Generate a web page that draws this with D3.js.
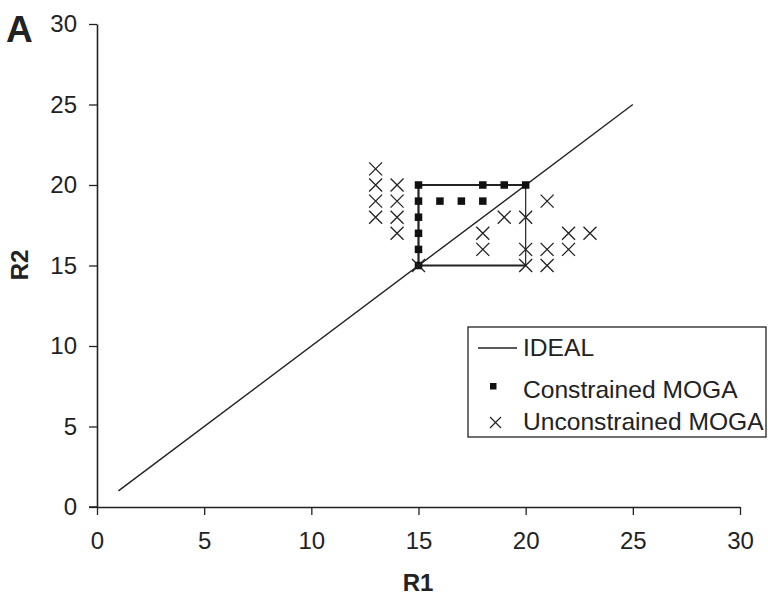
<!DOCTYPE html>
<html><head><meta charset="utf-8">
<script src="https://cdn.jsdelivr.net/npm/d3@7"></script>
<style>body{margin:0;background:#fff}svg{display:block}text{font-family:"Liberation Sans",Arial,sans-serif;fill:#222}</style>
</head><body>
<svg id="c" width="768" height="595"></svg>
<script>
const xTicks = [0,5,10,15,20,25,30];
const yTicks = [0,5,10,15,20,25,30];
const idealR1 = [1,25];
const idealR2 = [1,25];
const conR1 = [15,18,19,20,15,16,17,18,15,15,15,15];
const conR2 = [20,20,20,20,19,19,19,19,18,17,16,15];
const uncR1 = [13,13,13,13,14,14,14,14,15,18,18,19,20,20,20,21,21,21,22,22,23];
const uncR2 = [21,20,19,18,20,19,18,17,15,17,16,18,18,16,15,19,16,15,17,16,17];
const boxR1 = [15,20,20,15,15];
const boxR2 = [20,20,15,15,20];
const legendLabels = ["IDEAL","Constrained MOGA","Unconstrained MOGA"];

const svg = d3.select("#c");
const x = d3.scaleLinear().domain([0,30]).range([97,740]);
const y = d3.scaleLinear().domain([0,30]).range([507,24]);
const col = "#222";

// axes
const xa = svg.append("g").attr("transform","translate(0,507)")
  .call(d3.axisBottom(x).tickValues(xTicks).tickSize(8).tickPadding(17).tickSizeOuter(0));
const ya = svg.append("g").attr("transform","translate(97,0)")
  .call(d3.axisLeft(y).tickValues(yTicks).tickSize(8).tickPadding(12).tickSizeOuter(0));
[xa,ya].forEach(a=>{
  a.select(".domain").attr("stroke",col).attr("stroke-width",1.6);
  a.selectAll(".tick line").attr("stroke",col).attr("stroke-width",1.3);
  a.selectAll(".tick text").attr("font-size",24).attr("fill",col)
   .style("font-family",'"Liberation Sans",Arial,sans-serif');
});
svg.append("line").attr("x1",89).attr("x2",97).attr("y1",507).attr("y2",507).attr("stroke",col).attr("stroke-width",1.6);

// ideal line
const line = d3.line().x(d=>x(d[0])).y(d=>y(d[1]));
svg.append("path").attr("d",line(idealR1.map((v,i)=>[v,idealR2[i]])))
  .attr("fill","none").attr("stroke",col).attr("stroke-width",1.4);

// constraint box: top, right (thin), bottom, left
const bp = boxR1.map((v,i)=>[v,boxR2[i]]);
const widths = [2,1.2,2,2.2];
for(let i=0;i<4;i++){
  svg.append("line").attr("x1",x(bp[i][0])).attr("y1",y(bp[i][1]))
    .attr("x2",x(bp[i+1][0])).attr("y2",y(bp[i+1][1]))
    .attr("stroke",col).attr("stroke-width",widths[i]);
}

// constrained squares
const s = 7.5;
svg.append("g").selectAll("rect").data(conR1.map((v,i)=>[v,conR2[i]])).join("rect")
  .attr("x",d=>x(d[0])-s/2).attr("y",d=>y(d[1])-s/2).attr("width",s).attr("height",s).attr("fill","#111");

// unconstrained X
const h = 6.5;
const xp = d=>`M${x(d[0])-h},${y(d[1])-h}L${x(d[0])+h},${y(d[1])+h}M${x(d[0])-h},${y(d[1])+h}L${x(d[0])+h},${y(d[1])-h}`;
svg.append("g").selectAll("path").data(uncR1.map((v,i)=>[v,uncR2[i]])).join("path")
  .attr("d",xp).attr("stroke",col).attr("stroke-width",1.3).attr("fill","none");

// legend
const lg = svg.append("g");
lg.append("rect").attr("x",468).attr("y",327).attr("width",298).attr("height",110)
  .attr("fill","#fff").attr("stroke",col).attr("stroke-width",1.3);
lg.append("line").attr("x1",478).attr("x2",517).attr("y1",348).attr("y2",348).attr("stroke",col).attr("stroke-width",1.4);
lg.append("rect").attr("x",490).attr("y",383).attr("width",6.5).attr("height",6.5).attr("fill","#111");
lg.append("path").attr("d",`M490,417L501,428M490,428L501,417`).attr("stroke",col).attr("stroke-width",1.2);
const baselines = [356,398,430];
legendLabels.forEach((t,i)=>{
  lg.append("text").attr("x",523).attr("y",baselines[i]).attr("font-size",24.6).text(t);
});

// titles
svg.append("text").attr("x",418).attr("y",591).attr("text-anchor","middle").attr("font-size",24).attr("font-weight","bold").text("R1");
svg.append("text").attr("transform","translate(28,265) rotate(-90)").attr("text-anchor","middle").attr("font-size",24).attr("font-weight","bold").text("R2");
svg.append("text").attr("x",6).attr("y",42).attr("font-size",37).attr("font-weight","bold").text("A");
</script>
</body></html>
